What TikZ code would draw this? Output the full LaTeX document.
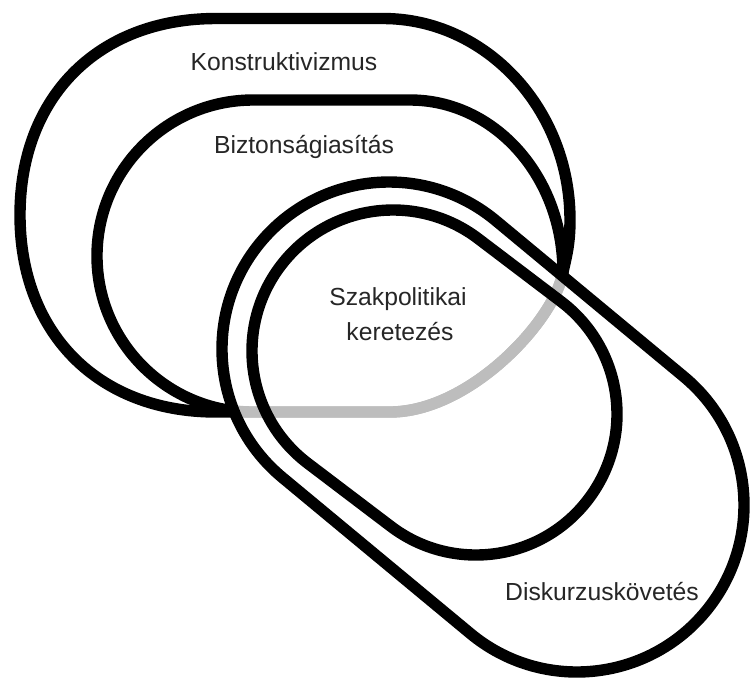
\documentclass[tikz,border=0pt]{standalone}
\usepackage{fontspec}
\setmainfont{Liberation Sans}
\usetikzlibrary{calc}
\tikzset{
  ring/.style={line width=5.7pt, line join=round},
  lbl/.style={anchor=base, inner sep=0pt, text=black!85, font=\fontsize{12.35}{14}\selectfont}
}
\begin{document}
\begin{tikzpicture}[x=0.5pt, y=0.5pt]
  \useasboundingbox (0,0) rectangle (751,-682);
  \draw[ring] (216,-18.5) -- (383,-18.5) .. controls (486,-18.5) and (570,-109) .. (570,-220)
     .. controls (570,-245) and (566,-258) .. (563,-272)
     .. controls (555,-320) and (470,-412) .. (390,-412) -- (216,-412)
     .. controls (98,-412) and (20,-333) .. (20,-215) .. controls (20,-97) and (98,-18.5) .. (216,-18.5) -- cycle;
  \draw[ring] (253,-100) -- (410,-100) .. controls (495,-100) and (563,-177) .. (563,-272)
     .. controls (555,-320) and (470,-412) .. (390,-412) -- (253,-412)
     .. controls (167,-412) and (97,-342) .. (97,-256) .. controls (97,-170) and (167,-100) .. (253,-100) -- cycle;
  \foreach \ax/\ay/\bx/\by/\r/\op in {389/-349/577/-505/167/0.74, 393/-351/476/-414/141/0} {
    \pgfmathsetmacro{\a}{atan2((\by)-(\ay),(\bx)-(\ax))}
    \draw[ring, fill=white, fill opacity=\op] (\ax,\ay) ++(\a+90:\r) arc[start angle=\a+90, delta angle=180, radius=\r]
      -- ($(\bx,\by)+(\a-90:\r)$) arc[start angle=\a-90, delta angle=180, radius=\r] -- cycle;
  }
  \node[lbl] (konstr) at (284,-70) {Konstruktivizmus};
  \node[lbl] (bizt) at (304,-153) {Biztonságiasítás};
  \node[lbl] (szak) at (398,-305) {Szakpolitikai};
  \node[lbl] (keret) at (400,-340) {keretezés};
  \node[lbl] (disk) at (602,-600) {Diskurzuskövetés};
\end{tikzpicture}
\end{document}
